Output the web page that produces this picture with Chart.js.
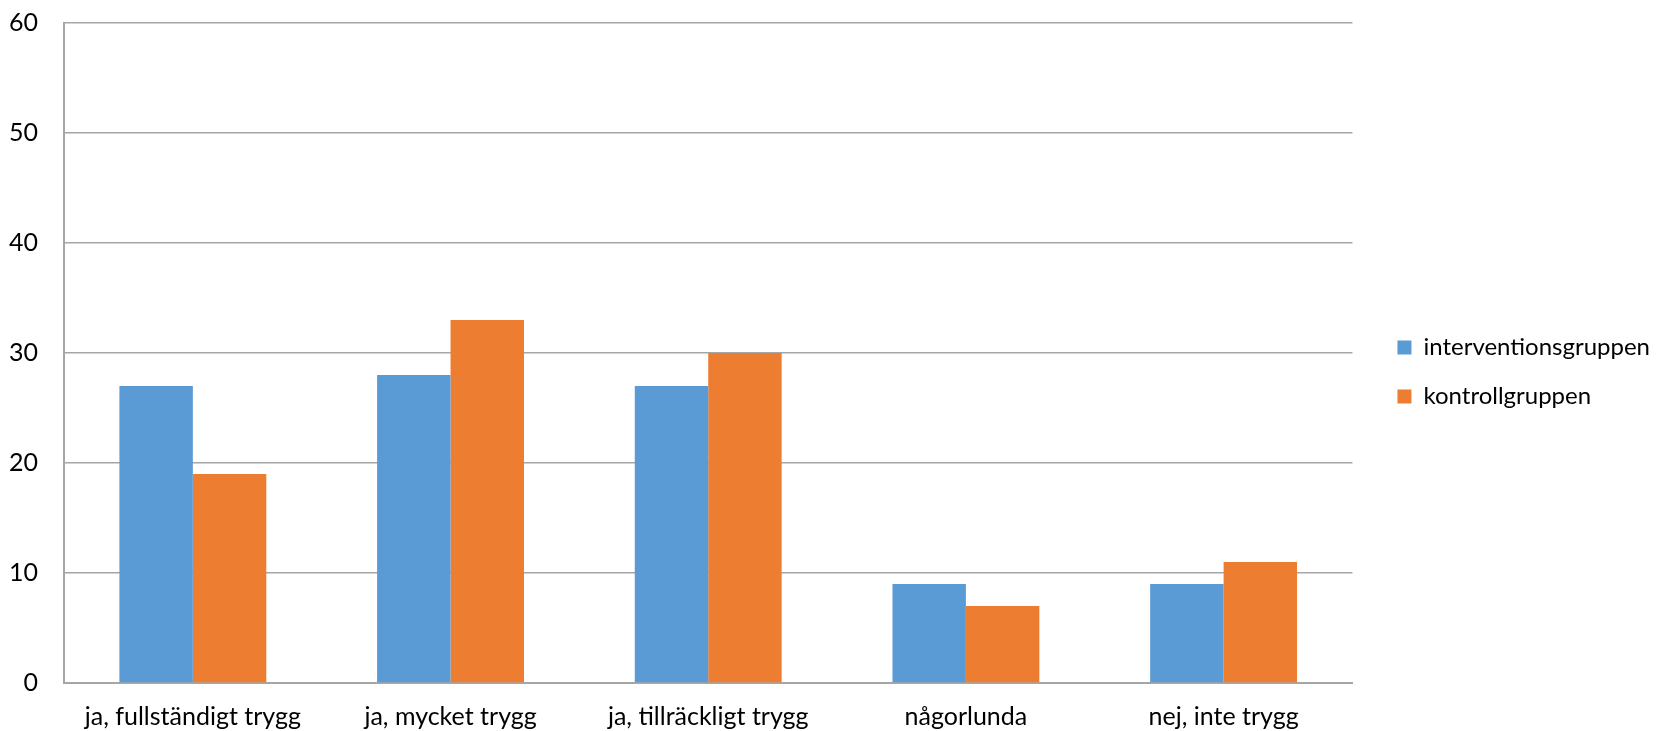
<!DOCTYPE html>
<html>
<head>
<meta charset="utf-8">
<script src="https://cdn.jsdelivr.net/npm/chart.js@4/dist/chart.umd.min.js"></script>
<style>
  html, body { margin: 0; padding: 0; background: #fff; }
  #wrap { width: 1656px; height: 731px; position: relative; }
</style>
</head>
<body>
<div id="wrap"><canvas id="chart" width="1656" height="731"></canvas></div>
<script>
const categories = [
  "ja, fullständigt trygg",
  "ja, mycket trygg",
  "ja, tillräckligt trygg",
  "någorlunda",
  "nej, inte trygg"
];
const interventionValues = [27, 28, 27, 9, 9];
const kontrollValues = [19, 33, 30, 7, 11];
const yTicks = [0, 10, 20, 30, 40, 50, 60];

const fontFamily = "Lato, 'Open Sans', sans-serif";
const gridColor = "#a6a6a6";

// push the legend a bit further away from the plot area
const legendShift = {
  id: "legendShift",
  afterLayout(chart) {
    chart.legend.left += 20;
    chart.legend.right += 20;
    chart.legend.top -= 5;
    chart.legend.bottom -= 5;
  }
};

const ctx = document.getElementById("chart").getContext("2d");

new Chart(ctx, {
  type: "bar",
  data: {
    labels: categories,
    datasets: [
      {
        label: "interventionsgruppen",
        data: interventionValues,
        backgroundColor: "#5b9bd5",
        categoryPercentage: 0.57,
        barPercentage: 1.0
      },
      {
        label: "kontrollgruppen",
        data: kontrollValues,
        backgroundColor: "#ed7d31",
        categoryPercentage: 0.57,
        barPercentage: 1.0
      }
    ]
  },
  plugins: [legendShift],
  options: {
    responsive: false,
    animation: false,
    layout: {
      padding: { top: 23, left: 0, right: 16, bottom: 0 }
    },
    plugins: {
      legend: {
        position: "right",
        labels: {
          boxWidth: 14,
          boxHeight: 14,
          padding: 25,
          color: "#000",
          font: { family: fontFamily, size: 24 }
        }
      },
      tooltip: { enabled: false }
    },
    scales: {
      x: {
        grid: { display: false, drawTicks: false },
        border: { display: true, color: gridColor, width: 2 },
        afterFit: function(axis) { axis.height = 48; },
        ticks: {
          color: "#000",
          padding: 21,
          maxRotation: 0,
          font: { family: fontFamily, size: 25, lineHeight: 1.0 }
        }
      },
      y: {
        min: 0,
        max: 60,
        afterBuildTicks: function(axis) {
          axis.ticks = yTicks.map(v => ({ value: v }));
        },
        afterFit: function(axis) {
          axis.width = 64;
          axis.paddingTop = 0;
          axis.paddingBottom = 0;
        },
        grid: { color: gridColor, lineWidth: 1.5, drawTicks: false },
        border: { display: true, color: gridColor, width: 2 },
        ticks: {
          color: "#000",
          padding: 26,
          font: { family: fontFamily, size: 25 }
        }
      }
    }
  }
});
</script>
</body>
</html>
